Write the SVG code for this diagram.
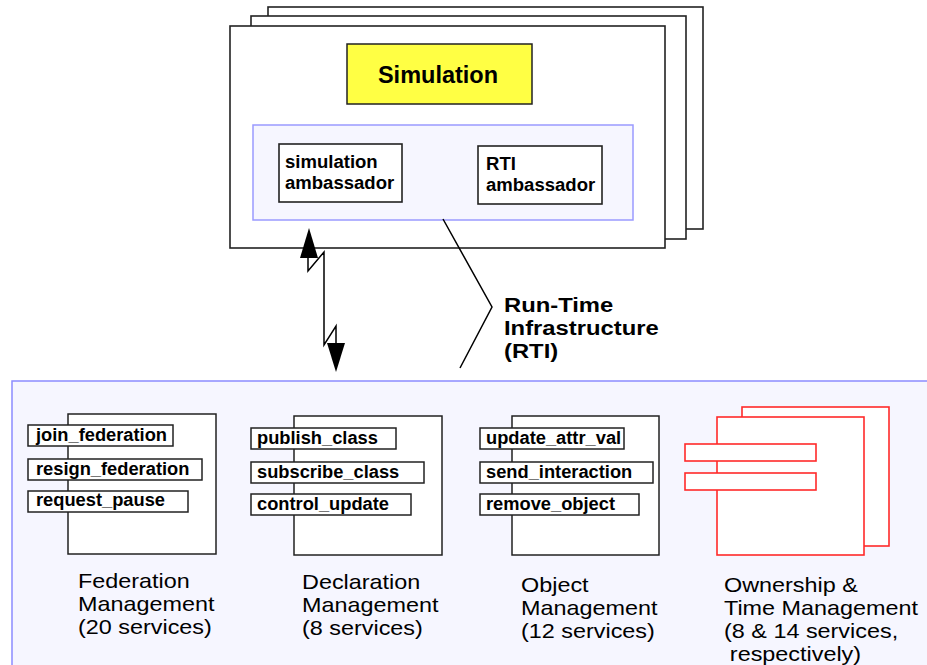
<svg xmlns="http://www.w3.org/2000/svg" width="927" height="665" viewBox="0 0 927 665">
  <style>
    .frame { fill: #ffffff; stroke: #222222; stroke-width: 1.6; }
    .svc { fill: #ffffff; stroke: #222222; stroke-width: 1.5; }
    .red { fill: #ffffff; stroke: #ff2a2a; stroke-width: 1.6; }
    .bold { font-family: "Liberation Sans", Arial, sans-serif; font-weight: bold; fill: #000000; }
    .amb { font-size: 18px; }
    .lbl { font-family: "Liberation Sans", Arial, sans-serif; font-size: 18.3px; font-weight: bold; fill: #000000; }
    .cap { font-family: "Liberation Sans", Arial, sans-serif; font-size: 20px; fill: #000000; }
    .rti { font-size: 20px; }
    .wire { fill: none; stroke: #000000; stroke-width: 1.5; }
  </style>

  <rect width="927" height="665" fill="#ffffff"/>

  <!-- Federates: stacked simulation frames -->
  <g id="federate-stack">
    <rect class="frame" x="268" y="7" width="435" height="222"/>
    <rect class="frame" x="251" y="16" width="435" height="223"/>
    <rect class="frame" x="230" y="26" width="435" height="222"/>
  </g>

  <g id="simulation">
    <rect x="347" y="44" width="185" height="60" fill="#ffff44" stroke="#222222" stroke-width="1.5"/>
    <text class="bold" x="438" y="83" font-size="23.5" text-anchor="middle">Simulation</text>
  </g>

  <g id="ambassador-layer">
    <rect x="253" y="125" width="380" height="95" fill="#f6f6ff" stroke="#9a9aff" stroke-width="1.5"/>
  </g>

  <g id="simulation-ambassador">
    <rect class="frame" x="279" y="144" width="123" height="58" stroke-width="1.5"/>
    <text class="bold amb" transform="translate(285,168) scale(1.03,1)">simulation<tspan x="0" dy="21">ambassador</tspan></text>
  </g>

  <g id="rti-ambassador">
    <rect class="frame" x="478" y="146" width="124" height="58" stroke-width="1.5"/>
    <text class="bold amb" transform="translate(486,170) scale(1.03,1)">RTI<tspan x="0" dy="21">ambassador</tspan></text>
  </g>

  <!-- RTI backplane -->
  <g id="rti-panel">
    <rect x="12" y="381" width="930" height="300" fill="#f6f6ff" stroke="#8c8cff" stroke-width="1.5"/>
  </g>

  <g id="rti-label">
    <text class="bold rti" transform="translate(504,312) scale(1.19,1)">Run-Time<tspan x="0" dy="23">Infrastructure</tspan><tspan x="0" dy="23">(RTI)</tspan></text>
  </g>

  <!-- Federation Management -->
  <g id="federation-management">
    <rect class="svc" x="68" y="414" width="148" height="140"/>
    <rect class="svc" x="28" y="425" width="145" height="21"/>
    <text class="lbl" x="36" y="441">join_federation</text>
    <rect class="svc" x="28" y="459" width="174" height="21"/>
    <text class="lbl" x="36" y="475">resign_federation</text>
    <rect class="svc" x="28" y="491" width="160" height="21"/>
    <text class="lbl" x="36" y="506">request_pause</text>
    <text class="cap" transform="translate(78,588) scale(1.17,1)">Federation<tspan x="0" dy="23">Management</tspan><tspan x="0" dy="23">(20 services)</tspan></text>
  </g>

  <!-- Declaration Management -->
  <g id="declaration-management">
    <rect class="svc" x="294" y="416" width="148" height="139"/>
    <rect class="svc" x="251" y="428" width="145" height="21"/>
    <text class="lbl" x="257" y="444">publish_class</text>
    <rect class="svc" x="251" y="462" width="173" height="21"/>
    <text class="lbl" x="257" y="478">subscribe_class</text>
    <rect class="svc" x="251" y="494" width="160" height="21"/>
    <text class="lbl" x="257" y="510">control_update</text>
    <text class="cap" transform="translate(302,589) scale(1.17,1)">Declaration<tspan x="0" dy="23">Management</tspan><tspan x="0" dy="23">(8 services)</tspan></text>
  </g>

  <!-- Object Management -->
  <g id="object-management">
    <rect class="svc" x="512" y="416" width="147" height="139"/>
    <rect class="svc" x="480" y="428" width="144" height="21"/>
    <text class="lbl" x="486" y="444">update_attr_val</text>
    <rect class="svc" x="480" y="462" width="173" height="21"/>
    <text class="lbl" x="486" y="478">send_interaction</text>
    <rect class="svc" x="480" y="494" width="159" height="21"/>
    <text class="lbl" x="486" y="510">remove_object</text>
    <text class="cap" transform="translate(521,592) scale(1.17,1)">Object<tspan x="0" dy="23">Management</tspan><tspan x="0" dy="23">(12 services)</tspan></text>
  </g>

  <!-- Ownership & Time Management -->
  <g id="ownership-time-management">
    <rect class="red" x="742" y="407" width="147" height="139"/>
    <rect class="red" x="717" y="417" width="147" height="138"/>
    <rect class="red" x="685" y="444" width="131" height="17"/>
    <rect class="red" x="685" y="473" width="131" height="17"/>
    <text class="cap" transform="translate(724,592) scale(1.17,1)">Ownership &amp;<tspan x="0" dy="23">Time Management</tspan><tspan x="0" dy="23">(8 &amp; 14 services,</tspan><tspan x="5" dy="23">respectively)</tspan></text>
  </g>

  <!-- Connectors -->
  <g id="connectors">
    <!-- bracket tying the ambassador layer to the RTI -->
    <polyline class="wire" points="443,219 492,307 460,368"/>
    <!-- two-way communication link with lightning jogs -->
    <polyline class="wire" points="308,256 308,271 324,252 324,345 336,326 336,344"/>
    <polygon points="309,228 300,258 318,258" fill="#000000"/>
    <polygon points="336,372 327,343 345,343" fill="#000000"/>
  </g>
</svg>
